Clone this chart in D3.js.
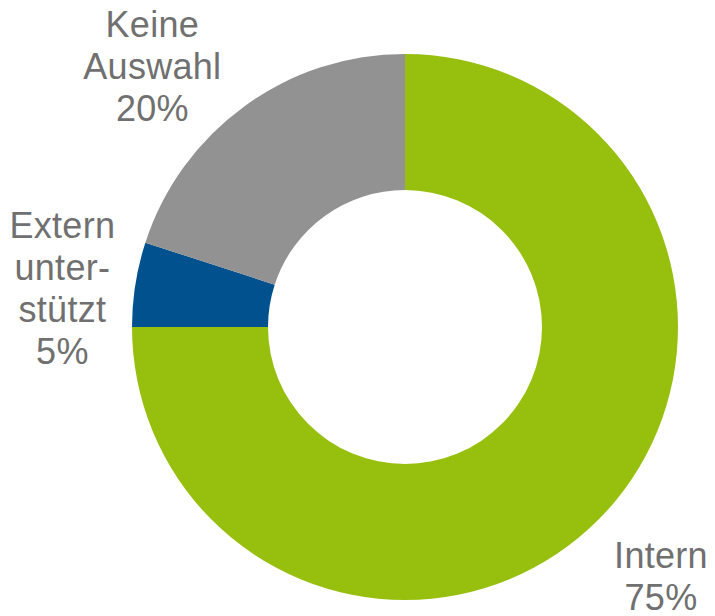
<!DOCTYPE html>
<html>
<head>
<meta charset="utf-8">
<script src="https://cdn.jsdelivr.net/npm/d3@7"></script>
<style>
  html, body { margin: 0; padding: 0; background: #fff; }
  svg { display: block; }
</style>
</head>
<body>
<svg id="chart" width="715" height="616"></svg>
<script>
const categories = ["Intern", "Extern unterstützt", "Keine Auswahl"];
const values = [75, 5, 20];
const labelLines = [["Intern", "75%"], ["Extern", "unter-", "stützt", "5%"], ["Keine", "Auswahl", "20%"]];
const colors = ["#97BF0D", "#00518E", "#929292"];
const labelOffsets = [[5, -1], [8, 18], [-44, 27]];

const width = 715, height = 616;
const cx = 405, cy = 327, outerR = 273, innerR = 137;
const svg = d3.select("#chart");
const g = svg.append("g").attr("transform", `translate(${cx},${cy})`);

const data = categories.map((c, i) => ({ cat: c, value: values[i], i }));
const pie = d3.pie().value(d => d.value).sort(null);
const arcs = pie(data);
const arc = d3.arc().innerRadius(innerR).outerRadius(outerR);

g.selectAll("path").data(arcs).enter().append("path")
  .attr("d", arc)
  .attr("fill", d => colors[d.data.i]);

const labelArc = d3.arc().innerRadius(355).outerRadius(355);
const lh = 42;
arcs.forEach(d => {
  const [x, y] = labelArc.centroid(d);
  const off = labelOffsets[d.data.i];
  const lines = labelLines[d.data.i];
  const bx = x + off[0], by = y + off[1];
  const first = by - (lines.length - 1) * lh / 2 + 12;
  const t = g.append("text")
    .attr("text-anchor", "middle")
    .attr("font-family", "'Liberation Sans', Arial, sans-serif")
    .attr("font-size", 36)
    .attr("letter-spacing", 0.3)
    .attr("fill", "#707070");
  lines.forEach((l, k) => {
    t.append("tspan").attr("x", bx).attr("y", first + k * lh).text(l);
  });
});
</script>
</body>
</html>
